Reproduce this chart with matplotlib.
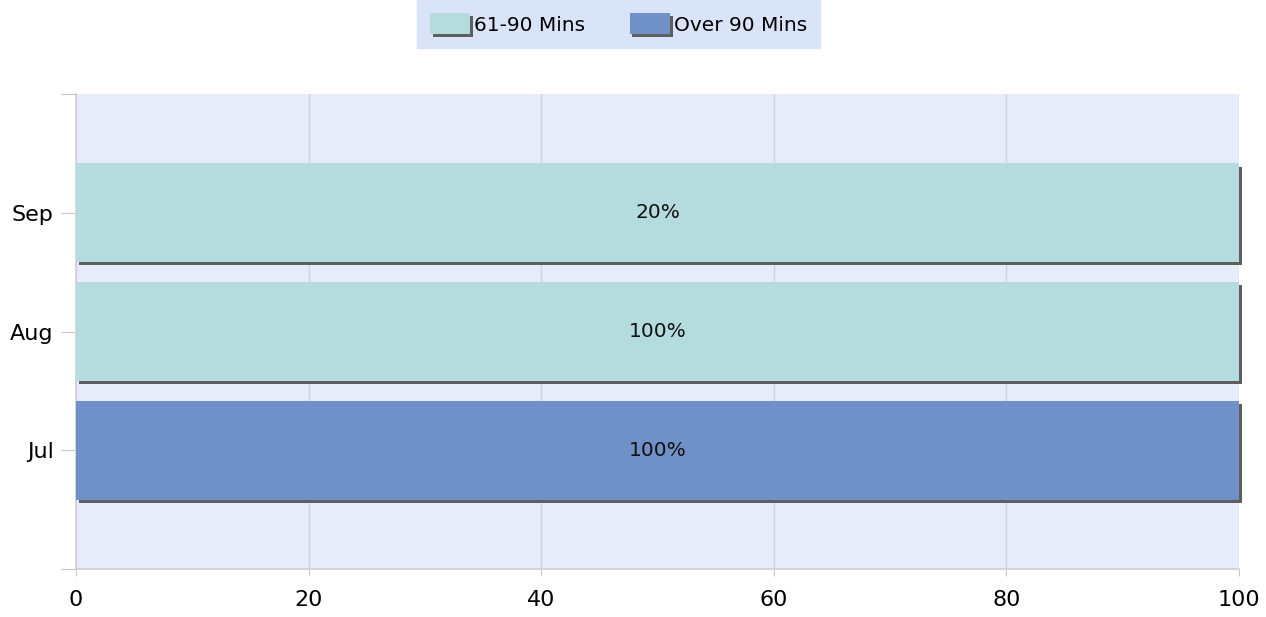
import numpy as np
import matplotlib.pyplot as plt
from matplotlib.patches import Patch
import matplotlib.patheffects as pe

months = ["Jul", "Aug", "Sep"]
mins_61_90 = [0, 100, 20]
over_90 = [100, 0, 0]
series_names = ["61-90 Mins", "Over 90 Mins"]
colors = ["#b4dcdf", "#7090c8"]

raw = np.array([mins_61_90, over_90], dtype=float)
totals = raw.sum(axis=0)
share = raw / totals * 100

plt.rcParams['font.family'] = ['DejaVu Sans']
fig = plt.figure(figsize=(12.66, 6.17), dpi=100)
ax = fig.add_axes([0.060, 0.0778, 0.9187, 0.7698])
ax.set_facecolor("#e6ecf9")

def shadow(d):
    return [pe.SimplePatchShadow(offset=(d, -d), shadow_rgbFace="#5e5e5e", alpha=1.0), pe.Normal()]

y = np.arange(len(months))
left = np.zeros(len(months))
for i in range(len(series_names)):
    bars = ax.barh(y, share[i], left=left, height=0.83, color=colors[i], zorder=3, clip_on=False)
    for b, v, r in zip(bars, share[i], raw[i]):
        if v > 0:
            b.set_path_effects(shadow(2.2))
            ax.text(b.get_x() + b.get_width() / 2, b.get_y() + b.get_height() / 2,
                    f"{r:g}%", ha="center", va="center", fontsize=14.5, color="#111111", zorder=4)
    left = left + share[i]

ax.set_xlim(0, 100)
ax.set_ylim(-1, 3)
ax.set_xticks(np.arange(0, 101, 20))
ax.set_yticks([-1, 0, 1, 2, 3])
ax.set_yticklabels([""] + months + [""])
ax.grid(axis="x", color="#d4d4d4", linewidth=1, zorder=0)
for s in ["top", "right"]:
    ax.spines[s].set_visible(False)
for s in ["left", "bottom"]:
    ax.spines[s].set_color("#d0d0d0")
    ax.spines[s].set_linewidth(1.2)
ax.tick_params(axis="y", length=11, color="#c8c8c8", labelsize=16, pad=5)
ax.tick_params(axis="x", length=5, color="#c8c8c8", labelsize=16, pad=10)

handles = [Patch(facecolor=c, label=n, path_effects=shadow(2)) for c, n in zip(colors, series_names)]
leg = fig.legend(handles=handles, loc="upper center", bbox_to_anchor=(0.4885, 1.0), ncol=2,
                 frameon=True, fancybox=False, fontsize=14.5, handlelength=2.0, handleheight=1.25,
                 handletextpad=0.2, columnspacing=2.2, borderpad=0.65, borderaxespad=0)
leg.get_frame().set_facecolor("#d9e4f8")
leg.get_frame().set_edgecolor("#d9e4f8")
leg.get_frame().set_alpha(1)

fig.savefig("out.png", dpi=100)
